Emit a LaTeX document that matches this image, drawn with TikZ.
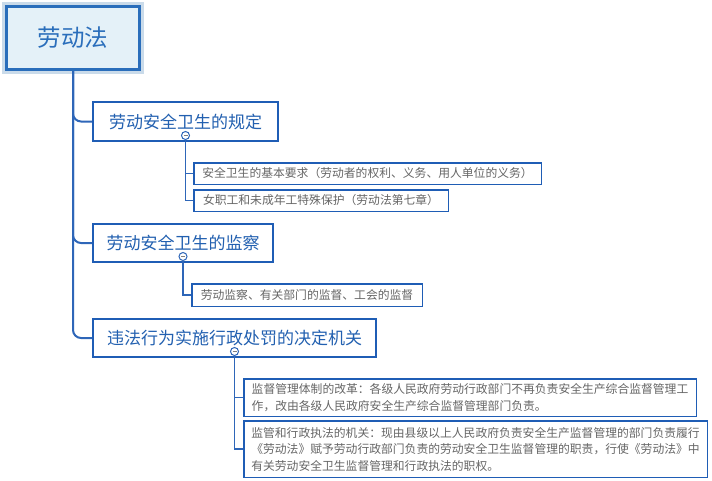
\documentclass[tikz,border=0pt]{standalone}
\usepackage{fontspec}
\setmainfont{Noto Sans CJK SC}
\definecolor{rootfill}{HTML}{E4F1F8}
\definecolor{rootline}{HTML}{2A6EBB}
\definecolor{rootglow}{HTML}{CADBEA}
\definecolor{boxline}{HTML}{1F5DB5}
\definecolor{branchtxt}{HTML}{2260B0}
\definecolor{childtxt}{HTML}{666666}
\definecolor{conncol}{HTML}{2E66B8}
\begin{document}
\begin{tikzpicture}[x=1pt,y=-1pt,
  rootbox/.style={draw=rootline, line width=3pt, fill=rootfill, text=rootline,
    minimum width=133pt, minimum height=63pt, inner sep=0pt,
    preaction={draw=rootglow, line width=9pt, rounded corners=3pt},
    font=\fontsize{23.5}{28}\selectfont},
  branchbox/.style={draw=boxline, line width=2pt, fill=white, text=branchtxt,
    inner sep=0pt, font=\fontsize{17}{20}\selectfont},
  childbox/.style={draw=boxline, line width=1.5pt, fill=white, text=childtxt,
    inner sep=0pt, align=left, font=\fontsize{11.8}{16.5}\selectfont},
  conn/.style={draw=conncol, line width=2pt},
  sconn/.style={draw=conncol, line width=1.8pt},
  knob/.style={circle, draw=conncol, line width=1pt, fill=white, minimum size=8pt, inner sep=0pt,
    path picture={\draw[gray, line width=0.8pt] ([xshift=-2pt]path picture bounding box.center) -- ([xshift=2pt]path picture bounding box.center);}}
]
\useasboundingbox (0,0) rectangle (712,480);
% nodes
\node[rootbox] (root) at (73,38) {劳动法};
\node[branchbox, minimum width=185pt, minimum height=39pt] (b1) at (185.5,121.5) {劳动安全卫生的规定};
\node[branchbox, minimum width=180pt, minimum height=38pt] (b2) at (183,243) {劳动安全卫生的监察};
\node[branchbox, minimum width=283pt, minimum height=38pt] (b3) at (234.5,338) {违法行为实施行政处罚的决定机关};
\node[childbox, minimum width=347.5pt, minimum height=21.5pt] (c1a) at (367.5,173.5) {安全卫生的基本要求（劳动者的权利、义务、用人单位的义务）};
\node[childbox, minimum width=254.5pt, minimum height=21.5pt] (c1b) at (321,200.5) {女职工和未成年工特殊保护（劳动法第七章）};
\node[childbox, minimum width=230.5pt, minimum height=22.5pt] (c2a) at (307,295) {劳动监察、有关部门的监督、工会的监督};
\node[childbox, minimum width=452.5pt, minimum height=37.5pt] (c3a) at (470,397.5) {监督管理体制的改革：各级人民政府劳动行政部门不再负责安全生产综合监督管理工\\作，改由各级人民政府安全生产综合监督管理部门负责。};
\node[childbox, minimum width=463.5pt, minimum height=56.5pt] (c3b) at (475.5,449) {监管和行政执法的机关：现由县级以上人民政府负责安全生产监督管理的部门负责履行\\《劳动法》赋予劳动行政部门负责的劳动安全卫生监督管理的职责，行使《劳动法》中\\有关劳动安全卫生监督管理和行政执法的职权。};
% trunk connectors
\draw[conn, rounded corners=8pt] (root.south) |- (b1.west);
\draw[conn, rounded corners=8pt] (root.south) |- (b2.west);
\draw[conn, rounded corners=8pt] (root.south) |- (b3.west);
% collapse knobs
\node[knob] (k1) at ([yshift=6.5pt]b1.south) {};
\node[knob] (k2) at ([yshift=6.5pt]b2.south) {};
\node[knob] (k3) at ([yshift=6.5pt]b3.south) {};
% child connectors
\draw[sconn] (k1.south) |- (c1a.west);
\draw[sconn] (k1.south) |- (c1b.west);
\draw[sconn] (k2.south) |- (c2a.west);
\draw[sconn] (k3.south) |- (c3a.west);
\draw[sconn] (k3.south) |- (c3b.west);
\end{tikzpicture}
\end{document}
